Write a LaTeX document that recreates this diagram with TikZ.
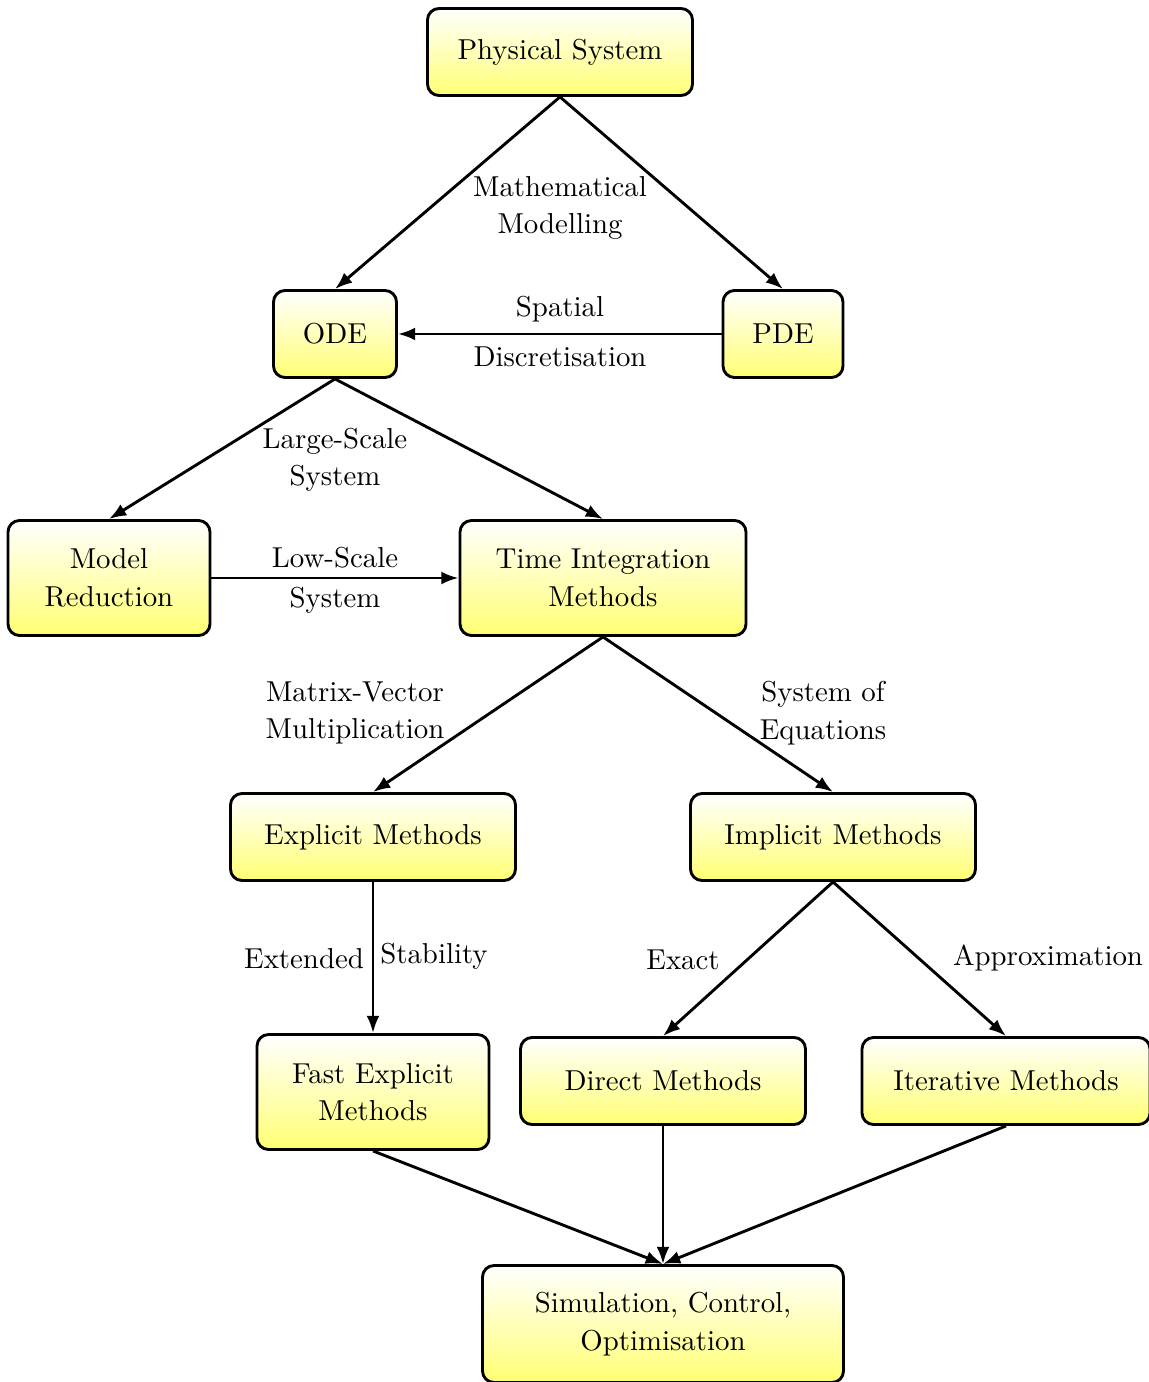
\documentclass[tikz,border=0pt]{standalone}
\usetikzlibrary{arrows.meta}
\begin{document}
\begin{tikzpicture}[x=0.347pt,y=-0.347pt,
  every node/.style={font=\fontsize{10}{13}\selectfont},
  box/.style={draw,line width=1pt,rounded corners=4pt,top color=white,bottom color=yellow!55,
    align=center,inner xsep=0pt,inner ysep=0pt},
  arr/.style={line width=1pt,-{Latex[length=6pt,width=4.5pt]}},
  lbl/.style={align=center,inner sep=0pt}]
\useasboundingbox (0,0) rectangle (1148,1382);
\node[box,minimum width=91.96pt,minimum height=30.19pt] (phys) at (560,52) {Physical System};
\node[box,minimum width=42.68pt,minimum height=30.19pt] (ode) at (335,334) {ODE};
\node[box,minimum width=41.64pt,minimum height=30.19pt] (pde) at (783,334) {PDE};
\node[box,minimum width=70.09pt,minimum height=39.9pt] (mr) at (109,578) {Model\\Reduction};
\node[box,minimum width=99.24pt,minimum height=39.9pt] (tim) at (603,578) {Time Integration\\Methods};
\node[box,minimum width=98.9pt,minimum height=30.19pt] (exp) at (373,837) {Explicit Methods};
\node[box,minimum width=98.9pt,minimum height=30.19pt] (imp) at (833,837) {Implicit Methods};
\node[box,minimum width=80.5pt,minimum height=39.9pt] (fast) at (373,1092) {Fast Explicit\\Methods};
\node[box,minimum width=98.9pt,minimum height=30.19pt] (dir) at (663,1081) {Direct Methods};
\node[box,minimum width=99.94pt,minimum height=30.19pt] (itr) at (1006,1081) {Iterative Methods};
\node[box,minimum width=125.27pt,minimum height=40.6pt] (sim) at (663,1324) {Simulation, Control,\\Optimisation};

\draw[arr] (phys.south) -- (ode.north);
\draw[arr] (phys.south) -- (pde.north);
\node[lbl] (lmm) at (560,208) {Mathematical\\Modelling};

\draw[arr] (pde.west) -- (ode.east);
\node[lbl] (lsp) at (560,309) {Spatial};
\node[lbl] (ldi) at (560,357) {Discretisation};

\draw[arr] (ode.south) -- (mr.north);
\draw[arr] (ode.south) -- (tim.north);
\node[lbl] (lls) at (335,460) {Large-Scale\\System};

\draw[arr] (mr.east) -- (tim.west);
\node[lbl] (llo) at (335,558) {Low-Scale};
\node[lbl] (lsy) at (335,600) {System};

\draw[arr] (tim.south) -- (exp.north);
\draw[arr] (tim.south) -- (imp.north);
\node[lbl] (lmv) at (355,713) {Matrix-Vector\\Multiplication};
\node[lbl] (lse) at (823,713) {System of\\Equations};

\draw[arr] (exp.south) -- (fast.north);
\node[lbl] (lex) at (304,959) {Extended};
\node[lbl] (lst) at (434,956) {Stability};

\draw[arr] (imp.south) -- (dir.north);
\draw[arr] (imp.south) -- (itr.north);
\node[lbl] (lxa) at (683,960) {Exact};
\node[lbl] (lap) at (1048,958) {Approximation};

\draw[arr] (fast.south) -- (sim.north);
\draw[arr] (dir.south) -- (sim.north);
\draw[arr] (itr.south) -- (sim.north);
\end{tikzpicture}
\end{document}
